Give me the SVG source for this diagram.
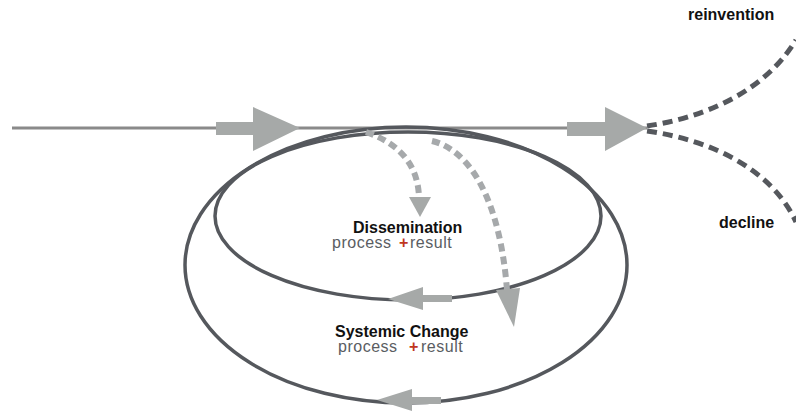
<svg xmlns="http://www.w3.org/2000/svg" width="796" height="412" viewBox="0 0 796 412">
  <style>
    .ring { fill: none; stroke: #55585d; stroke-width: 3.5; }
    .flow { fill: #a6a9a8; }
    .spread { fill: none; stroke: #a6a9ab; stroke-width: 6; stroke-dasharray: 8 5; }
    .fate { fill: none; stroke: #55585d; stroke-width: 5; stroke-dasharray: 10 6; }
    .head { font-family: "Liberation Sans", Arial, sans-serif; font-weight: bold; font-size: 16px; fill: #111; }
    .sub { font-family: "Liberation Sans", Arial, sans-serif; font-size: 16px; letter-spacing: 0.5px; fill: #5a5d62; }
    .plus { font-family: "Liberation Sans", Arial, sans-serif; font-weight: bold; font-size: 16px; fill: #c0361e; }
  </style>
  <rect width="796" height="412" fill="#ffffff"/>

  <!-- main timeline -->
  <g id="timeline">
    <line x1="12" y1="128" x2="647" y2="128" stroke="#8a8a8a" stroke-width="3"/>
  </g>

  <!-- systemic change (outer) -->
  <g id="systemic-change">
    <ellipse class="ring" cx="406" cy="265" rx="221" ry="138"/>
    <text class="head" x="335" y="337">Systemic Change</text>
    <text class="sub" x="338" y="352">process</text>
    <text class="plus" x="409" y="352">+</text>
    <text class="sub" x="421" y="352">result</text>
  </g>

  <!-- dissemination (inner) -->
  <g id="dissemination">
    <ellipse class="ring" cx="408" cy="216" rx="193" ry="84"/>
    <text class="head" x="353" y="233">Dissemination</text>
    <text class="sub" x="332" y="248">process</text>
    <text class="plus" x="399" y="248">+</text>
    <text class="sub" x="410" y="248">result</text>
  </g>

  <g id="reinvention">
    <text class="head" x="688" y="20">reinvention</text>
  </g>
  <g id="decline">
    <text class="head" x="719" y="228">decline</text>
  </g>

  <g id="connectors">
    <!-- block arrows along the timeline -->
    <polygon class="flow" points="216,122 253,122 253,107 300,128 253,151 253,135 216,135"/>
    <polygon class="flow" points="567,122 605,122 605,107 647,128 605,151 605,136 567,136"/>

    <!-- outcomes -->
    <path class="fate" d="M 647 126 C 700 118 762 95 796 40"/>
    <path class="fate" d="M 647 131 C 712 140 772 170 796 222"/>

    <!-- dissemination drops -->
    <path class="spread" d="M 366 132 Q 418 150 419 198"/>
    <polygon class="flow" points="409,197 431,197 420,217"/>
    <path class="spread" d="M 432 141 C 470 150 500 200 507 290"/>
    <polygon class="flow" points="496,290 520,288 514,327"/>

    <!-- circulation arrows on the rings -->
    <polygon class="flow" points="452,295 423,295 423,287 388,299 423,310 423,302 452,302"/>
    <polygon class="flow" points="441,397 412,397 412,389 377,400 412,411 412,404 441,404"/>
  </g>
</svg>
